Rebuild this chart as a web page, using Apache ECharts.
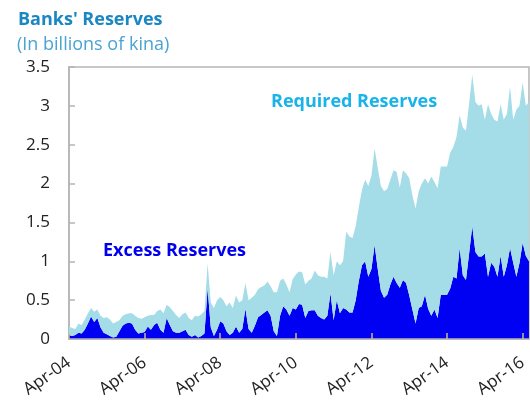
<!DOCTYPE html>
<html><head><meta charset="utf-8">
<script src="https://cdn.jsdelivr.net/npm/echarts@6/dist/echarts.min.js"></script>
<style>html,body{margin:0;padding:0;background:#fff}#c{width:530px;height:411px}</style>
</head><body><div id="c"></div>
<script>
// Monthly categories Apr-04 .. Jun-16
const monthNames = ['Jan','Feb','Mar','Apr','May','Jun','Jul','Aug','Sep','Oct','Nov','Dec'];
const startYear = 2004, startMonth = 3, nMonths = 147;
const categories = [];
for (let i = 0; i < nMonths; i++) {
  const m = (startMonth + i) % 12, y = startYear + Math.floor((startMonth + i) / 12);
  categories.push(monthNames[m] + '-' + String(y % 100).padStart(2, '0'));
}
const yTicks = [0, 0.5, 1, 1.5, 2, 2.5, 3, 3.5];

// Excess reserves (billions of kina)
const excess = [
0.05,0.04,0.05,0.08,0.07,0.12,0.20,0.29,0.22,0.27,0.15,0.08,
0.06,0.04,0.02,0.03,0.10,0.17,0.20,0.21,0.20,0.12,0.07,0.08,
0.09,0.16,0.12,0.18,0.21,0.12,0.08,0.27,0.18,0.10,0.08,0.08,
0.10,0.12,0.05,0.03,0.05,0.02,0.04,0.07,0.65,0.15,0.04,0.12,
0.23,0.20,0.10,0.05,0.08,0.16,0.08,0.13,0.39,0.13,0.08,0.17,
0.28,0.31,0.34,0.37,0.30,0.10,0.04,0.30,0.42,0.38,0.30,0.40,
0.38,0.45,0.44,0.27,0.36,0.37,0.37,0.30,0.27,0.25,0.30,0.59,
0.24,0.50,0.33,0.40,0.38,0.34,0.34,0.50,0.75,0.95,1.00,0.80,
0.90,1.21,0.90,0.62,0.53,0.57,0.70,0.80,0.72,0.66,0.76,0.72,
0.56,0.38,0.20,0.40,0.42,0.57,0.39,0.30,0.38,0.27,0.57,0.57,
0.57,0.65,0.80,0.78,1.17,0.82,0.76,1.10,1.45,1.12,1.06,1.06,
1.10,0.80,0.98,0.93,0.80,1.07,0.80,0.95,1.17,0.98,0.80,0.98,
1.24,1.07,1.00
];
// Required reserves (billions of kina), stacked on excess
const required = [
0.11,0.10,0.08,0.12,0.11,0.13,0.13,0.11,0.13,0.11,0.15,0.19,
0.22,0.21,0.18,0.19,0.14,0.13,0.12,0.12,0.13,0.18,0.20,0.18,
0.19,0.14,0.19,0.13,0.15,0.26,0.25,0.17,0.23,0.26,0.23,0.19,
0.22,0.22,0.22,0.21,0.25,0.27,0.28,0.29,0.32,0.32,0.36,0.38,
0.31,0.30,0.32,0.42,0.32,0.40,0.39,0.37,0.33,0.37,0.45,0.40,
0.36,0.36,0.35,0.37,0.38,0.50,0.56,0.45,0.36,0.32,0.30,0.37,
0.45,0.42,0.42,0.43,0.39,0.41,0.51,0.52,0.53,0.55,0.48,0.53,
0.58,0.50,0.62,0.60,1.00,0.98,0.96,0.95,0.95,0.97,1.05,1.17,
1.20,1.24,1.30,1.35,1.37,1.36,1.35,1.37,1.43,1.29,1.41,1.41,
1.51,1.47,1.48,1.50,1.58,1.50,1.61,1.79,1.64,1.67,1.65,1.65,
1.65,1.75,1.67,1.82,1.71,1.90,1.92,1.93,1.95,1.93,1.94,1.96,
1.72,2.22,1.92,1.89,2.00,1.95,2.02,1.95,2.08,1.84,2.15,2.02,
2.06,1.93,2.05
];

const font = '"Open Sans", "Noto Sans", sans-serif';
const chart = echarts.init(document.getElementById('c'), null, {renderer: 'canvas'});
chart.setOption({
  animation: false,
  backgroundColor: '#fff',
  title: [
    {text: "Banks' Reserves", left: 13, top: 6,
     textStyle: {fontFamily: font, fontSize: 18, fontWeight: 'bold', color: '#1a87c2'}},
    {text: '(In billions of kina)', left: 12, top: 31,
     textStyle: {fontFamily: font, fontSize: 18, fontWeight: 'normal', color: '#4aa3d3'}}
  ],
  grid: {left: 69, top: 67, width: (nMonths - 1) * 76 / 24, bottom: 72,
         show: true, borderColor: '#b5b5b5', borderWidth: 1.5, backgroundColor: 'transparent'},
  xAxis: {
    type: 'category', data: categories, boundaryGap: false,
    axisLine: {show: true, lineStyle: {color: '#b5b5b5', width: 1.5}},
    axisTick: {show: true, inside: true, length: 6, interval: 23, lineStyle: {color: '#c9b99a', width: 1.5}},
    axisLabel: {interval: 23, rotate: 35, margin: 22, fontFamily: font, fontSize: 17, color: '#222'},
    splitLine: {show: false}, z: 10
  },
  yAxis: {
    type: 'value', min: 0, max: 3.5, interval: 0.5,
    axisLine: {show: true, lineStyle: {color: '#b5b5b5', width: 1.5}},
    axisTick: {show: true, inside: true, length: 6, lineStyle: {color: '#b5b5b5', width: 1.5}},
    axisLabel: {margin: 19, fontFamily: font, fontSize: 17, color: '#222',
      formatter: v => (yTicks.indexOf(v) >= 0 ? String(v) : '')},
    splitLine: {show: false}
  },
  series: [
    {name: 'Excess Reserves', type: 'line', stack: 'r', data: excess, showSymbol: false,
     lineStyle: {width: 0}, areaStyle: {color: '#0000f2', opacity: 1}, itemStyle: {color: '#0000f2'}},
    {name: 'Required Reserves', type: 'line', stack: 'r', data: required, showSymbol: false,
     lineStyle: {width: 0}, areaStyle: {color: '#a4dde7', opacity: 1}, itemStyle: {color: '#a4dde7'}}
  ],
  graphic: [
    {type: 'text', left: 271, top: 93, z: 100,
     style: {text: 'Required Reserves', fontFamily: font, fontSize: 18, fontWeight: 'bold', fill: '#19b3ea'}},
    {type: 'text', left: 103, top: 242, z: 100,
     style: {text: 'Excess Reserves', fontFamily: font, fontSize: 18, fontWeight: 'bold', fill: '#0000ee'}}
  ]
});
</script></body></html>
